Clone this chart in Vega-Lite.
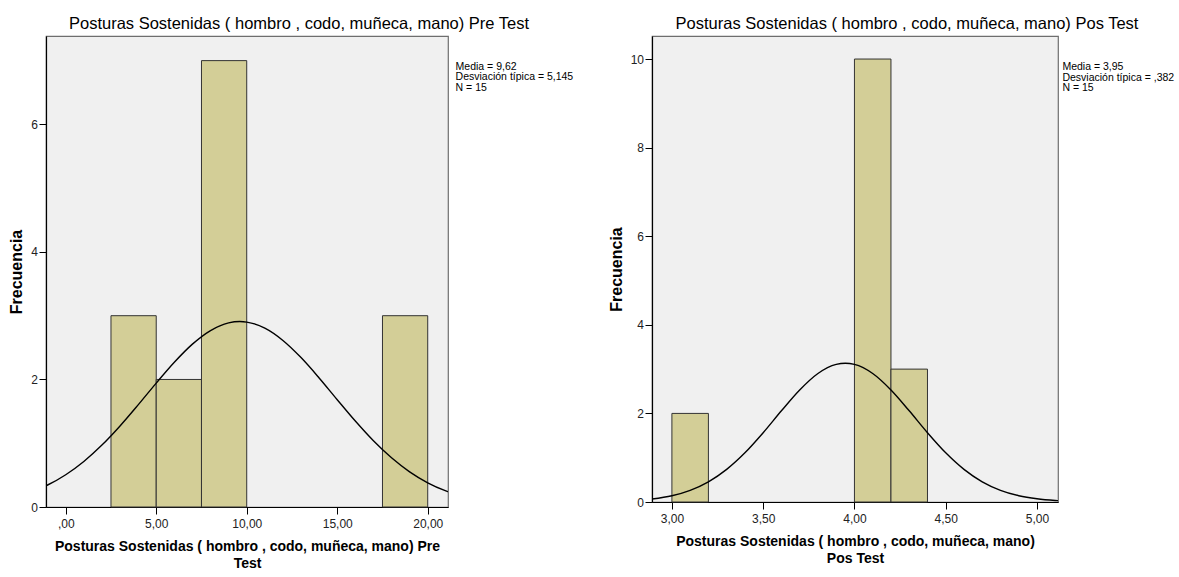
{
  "$schema": "https://vega.github.io/schema/vega-lite/v6.json",
  "background": "white",
  "padding": {"left": 8, "top": 14, "right": 0, "bottom": 0},
  "spacing": 33,
  "config": {
    "view": {"fill": "#f0f0f0", "stroke": "#6e6e6e", "strokeWidth": 1.2},
    "axis": {
      "grid": false,
      "domainColor": "#000000",
      "domainWidth": 1.2,
      "tickColor": "#000000",
      "tickSize": 7,
      "labelFont": "Liberation Sans",
      "labelFontSize": 12,
      "labelColor": "#222222",
      "titleFont": "Liberation Sans",
      "titleFontWeight": "bold",
      "titleFontSize": 14,
      "titleColor": "#000000",
      "titleLineHeight": 17
    },
    "axisY": {"labelPadding": 1.5, "titlePadding": 6, "titleFontSize": 16},
    "axisX": {"labelPadding": 4, "titlePadding": 10},
    "title": {"font": "Liberation Sans", "fontSize": 16.5, "fontWeight": "normal", "color": "#000000", "baseline": "alphabetic", "dx": 52, "offset": 4}
  },
  "datasets": {
    "pre_barras": [
      {"desde": 2.5, "hasta": 5, "frecuencia": 3},
      {"desde": 5, "hasta": 7.5, "frecuencia": 2},
      {"desde": 7.5, "hasta": 10, "frecuencia": 7},
      {"desde": 17.5, "hasta": 20, "frecuencia": 3}
    ],
    "pre_curva": [
      {"valor": -1.09, "densidad": 0.333},
      {"valor": -1, "densidad": 0.345},
      {"valor": 0, "densidad": 0.506},
      {"valor": 1, "densidad": 0.714},
      {"valor": 2, "densidad": 0.971},
      {"valor": 3, "densidad": 1.271},
      {"valor": 4, "densidad": 1.601},
      {"valor": 5, "densidad": 1.943},
      {"valor": 6, "densidad": 2.270},
      {"valor": 7, "densidad": 2.554},
      {"valor": 8, "densidad": 2.767},
      {"valor": 9, "densidad": 2.887},
      {"valor": 9.62, "densidad": 2.908},
      {"valor": 10, "densidad": 2.900},
      {"valor": 11, "densidad": 2.805},
      {"valor": 12, "densidad": 2.612},
      {"valor": 13, "densidad": 2.343},
      {"valor": 14, "densidad": 2.024},
      {"valor": 15, "densidad": 1.683},
      {"valor": 16, "densidad": 1.348},
      {"valor": 17, "densidad": 1.039},
      {"valor": 18, "densidad": 0.772},
      {"valor": 19, "densidad": 0.552},
      {"valor": 20, "densidad": 0.380},
      {"valor": 21, "densidad": 0.252},
      {"valor": 21.12, "densidad": 0.239}
    ],
    "pos_barras": [
      {"desde": 3.0, "hasta": 3.2, "frecuencia": 2},
      {"desde": 4.0, "hasta": 4.2, "frecuencia": 10},
      {"desde": 4.2, "hasta": 4.4, "frecuencia": 3}
    ],
    "pos_curva": [
      {"valor": 2.891, "densidad": 0.067},
      {"valor": 3.0, "densidad": 0.142},
      {"valor": 3.1, "densidad": 0.264},
      {"valor": 3.2, "densidad": 0.456},
      {"valor": 3.3, "densidad": 0.737},
      {"valor": 3.4, "densidad": 1.111},
      {"valor": 3.5, "densidad": 1.565},
      {"valor": 3.6, "densidad": 2.059},
      {"valor": 3.7, "densidad": 2.529},
      {"valor": 3.8, "densidad": 2.901},
      {"valor": 3.9, "densidad": 3.106},
      {"valor": 3.95, "densidad": 3.133},
      {"valor": 4.0, "densidad": 3.106},
      {"valor": 4.1, "densidad": 2.901},
      {"valor": 4.2, "densidad": 2.529},
      {"valor": 4.3, "densidad": 2.059},
      {"valor": 4.4, "densidad": 1.565},
      {"valor": 4.5, "densidad": 1.111},
      {"valor": 4.6, "densidad": 0.737},
      {"valor": 4.7, "densidad": 0.456},
      {"valor": 4.8, "densidad": 0.264},
      {"valor": 4.9, "densidad": 0.142},
      {"valor": 5.0, "densidad": 0.072},
      {"valor": 5.1, "densidad": 0.034},
      {"valor": 5.115, "densidad": 0.030}
    ],
    "pre_resumen": [{"lineas": ["Media = 9,62", "Desviación típica = 5,145", "N = 15"]}],
    "pos_resumen": [{"lineas": ["Media = 3,95", "Desviación típica = ,382", "N = 15"]}]
  },
  "hconcat": [
    {
      "width": 402,
      "height": 471,
      "title": {"text": "Posturas Sostenidas ( hombro , codo, muñeca, mano) Pre Test"},
      "layer": [
        {
          "data": {"name": "pre_barras"},
          "mark": {"type": "rect", "fill": "#d3ce97", "stroke": "#333333", "strokeWidth": 1},
          "encoding": {
            "x": {
              "field": "desde", "type": "quantitative",
              "scale": {"domain": [-1.09, 21.12], "nice": false, "zero": false},
              "axis": {
                "values": [0, 5, 10, 15, 20],
                "labelExpr": "datum.value === 0 ? ',00' : replace(format(datum.value, '.2f'), '.', ',')",
                "title": ["Posturas Sostenidas ( hombro , codo, muñeca, mano) Pre", "Test"]
              }
            },
            "x2": {"field": "hasta"},
            "y": {
              "field": "frecuencia", "type": "quantitative",
              "scale": {"domain": [0, 7.386], "nice": false},
              "axis": {"values": [0, 2, 4, 6], "format": "d", "title": "Frecuencia"}
            },
            "y2": {"datum": 0}
          }
        },
        {
          "data": {"name": "pre_curva"},
          "mark": {"type": "line", "color": "#000000", "strokeWidth": 1.4, "interpolate": "monotone", "clip": true},
          "encoding": {
            "x": {"field": "valor", "type": "quantitative"},
            "y": {"field": "densidad", "type": "quantitative"}
          }
        },
        {
          "data": {"name": "pre_resumen"},
          "mark": {"type": "text", "align": "left", "baseline": "top", "font": "Liberation Sans", "fontSize": 10.5, "lineHeight": 10.5, "color": "#000000"},
          "encoding": {
            "x": {"datum": 21.54, "type": "quantitative"},
            "y": {"datum": 6.98, "type": "quantitative"},
            "text": {"field": "lineas"}
          }
        }
      ]
    },
    {
      "width": 406,
      "height": 466,
      "title": {"text": "Posturas Sostenidas ( hombro , codo, muñeca, mano) Pos Test"},
      "layer": [
        {
          "data": {"name": "pos_barras"},
          "mark": {"type": "rect", "fill": "#d3ce97", "stroke": "#333333", "strokeWidth": 1},
          "encoding": {
            "x": {
              "field": "desde", "type": "quantitative",
              "scale": {"domain": [2.891, 5.115], "nice": false, "zero": false},
              "axis": {
                "values": [3, 3.5, 4, 4.5, 5],
                "labelExpr": "replace(format(datum.value, '.2f'), '.', ',')",
                "title": ["Posturas Sostenidas ( hombro , codo, muñeca, mano)", "Pos Test"]
              }
            },
            "x2": {"field": "hasta"},
            "y": {
              "field": "frecuencia", "type": "quantitative",
              "scale": {"domain": [0, 10.52], "nice": false},
              "axis": {"values": [0, 2, 4, 6, 8, 10], "format": "d", "title": "Frecuencia"}
            },
            "y2": {"datum": 0}
          }
        },
        {
          "data": {"name": "pos_curva"},
          "mark": {"type": "line", "color": "#000000", "strokeWidth": 1.4, "interpolate": "monotone", "clip": true},
          "encoding": {
            "x": {"field": "valor", "type": "quantitative"},
            "y": {"field": "densidad", "type": "quantitative"}
          }
        },
        {
          "data": {"name": "pos_resumen"},
          "mark": {"type": "text", "align": "left", "baseline": "top", "font": "Liberation Sans", "fontSize": 10.5, "lineHeight": 10.5, "color": "#000000"},
          "encoding": {
            "x": {"datum": 5.139, "type": "quantitative"},
            "y": {"datum": 9.93, "type": "quantitative"},
            "text": {"field": "lineas"}
          }
        }
      ]
    }
  ]
}
